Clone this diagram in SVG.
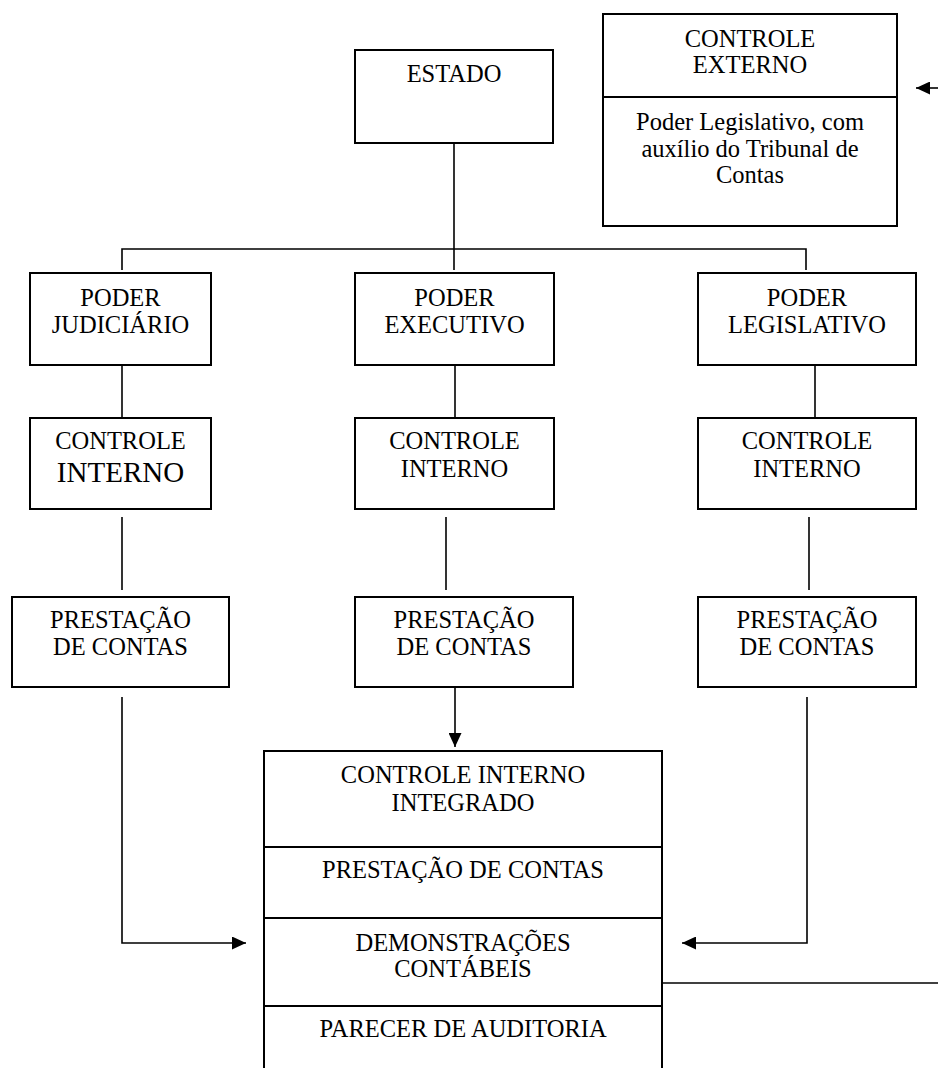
<svg xmlns="http://www.w3.org/2000/svg" width="938" height="1068" viewBox="0 0 938 1068">
<style>
.box{fill:#fff;stroke:#000;stroke-width:2}
.ln{fill:none;stroke:#000;stroke-width:1.6}
text{font-family:"Liberation Serif","Times New Roman",serif;font-size:24.5px;fill:#000;text-anchor:middle}
.big{font-size:29px}
</style>
<defs>
<marker id="ah" markerWidth="14" markerHeight="13" refX="14" refY="6.5" orient="auto" markerUnits="userSpaceOnUse">
<path d="M0,0 L14,6.5 L0,13 z" fill="#000"/>
</marker>
</defs>
<rect width="938" height="1068" fill="#fff"/>
<g id="connectors">
<path class="ln" d="M454,143 V270"/>
<path class="ln" d="M122,270 V249 H806 V270"/>
<path class="ln" d="M122,365 V418"/>
<path class="ln" d="M455,365 V418"/>
<path class="ln" d="M815,365 V418"/>
<path class="ln" d="M122,517 V590"/>
<path class="ln" d="M446,517 V590"/>
<path class="ln" d="M809,517 V590"/>
<path class="ln" d="M455,675 V747" marker-end="url(#ah)"/>
<path class="ln" d="M122,697 V943 H246" marker-end="url(#ah)"/>
<path class="ln" d="M807,697 V943 H682" marker-end="url(#ah)"/>
<path class="ln" d="M662,983 H938"/>
<path class="ln" d="M938,88 H916" marker-end="url(#ah)"/>
</g>
<g id="estado">
<rect class="box" x="355" y="50" width="198" height="93"/>
<text x="454" y="82">ESTADO</text>
</g>
<g id="controle-externo">
<rect class="box" x="603" y="14" width="294" height="212"/>
<line class="ln" x1="603" y1="97" x2="897" y2="97" style="stroke-width:2"/>
<text x="750" y="47">CONTROLE</text>
<text x="750" y="73">EXTERNO</text>
<text x="750" y="130">Poder Legislativo, com</text>
<text x="750" y="157">auxílio do Tribunal de</text>
<text x="750" y="183">Contas</text>
</g>
<g id="poder-judiciario">
<rect class="box" x="30" y="273" width="181" height="92"/>
<text x="120.5" y="306">PODER</text>
<text x="120.5" y="333">JUDICIÁRIO</text>
</g>
<g id="poder-executivo">
<rect class="box" x="355" y="273" width="199" height="92"/>
<text x="454.5" y="306">PODER</text>
<text x="454.5" y="333">EXECUTIVO</text>
</g>
<g id="poder-legislativo">
<rect class="box" x="698" y="273" width="218" height="92"/>
<text x="807" y="306">PODER</text>
<text x="807" y="333">LEGISLATIVO</text>
</g>
<g id="ci-judiciario">
<rect class="box" x="30" y="418" width="181" height="91"/>
<text x="120.5" y="449">CONTROLE</text>
<text class="big" x="120.5" y="482">INTERNO</text>
</g>
<g id="ci-executivo">
<rect class="box" x="355" y="418" width="199" height="91"/>
<text x="454.5" y="449">CONTROLE</text>
<text x="454.5" y="477">INTERNO</text>
</g>
<g id="ci-legislativo">
<rect class="box" x="698" y="418" width="218" height="91"/>
<text x="807" y="449">CONTROLE</text>
<text x="807" y="477">INTERNO</text>
</g>
<g id="pc-judiciario">
<rect class="box" x="12" y="597" width="217" height="90"/>
<text x="120.5" y="628">PRESTAÇÃO</text>
<text x="120.5" y="655">DE CONTAS</text>
</g>
<g id="pc-executivo">
<rect class="box" x="355" y="597" width="218" height="90"/>
<text x="464" y="628">PRESTAÇÃO</text>
<text x="464" y="655">DE CONTAS</text>
</g>
<g id="pc-legislativo">
<rect class="box" x="698" y="597" width="218" height="90"/>
<text x="807" y="628">PRESTAÇÃO</text>
<text x="807" y="655">DE CONTAS</text>
</g>
<g id="controle-interno-integrado">
<path class="box" d="M264,1070 V751 H662 V1070"/>
<line class="ln" x1="264" y1="847" x2="662" y2="847" style="stroke-width:2"/>
<line class="ln" x1="264" y1="918" x2="662" y2="918" style="stroke-width:2"/>
<line class="ln" x1="264" y1="1006" x2="662" y2="1006" style="stroke-width:2"/>
<text x="463" y="783">CONTROLE INTERNO</text>
<text x="463" y="811">INTEGRADO</text>
<text x="463" y="878">PRESTAÇÃO DE CONTAS</text>
<text x="463" y="951">DEMONSTRAÇÕES</text>
<text x="463" y="977">CONTÁBEIS</text>
<text x="463" y="1037">PARECER DE AUDITORIA</text>
</g>
</svg>
